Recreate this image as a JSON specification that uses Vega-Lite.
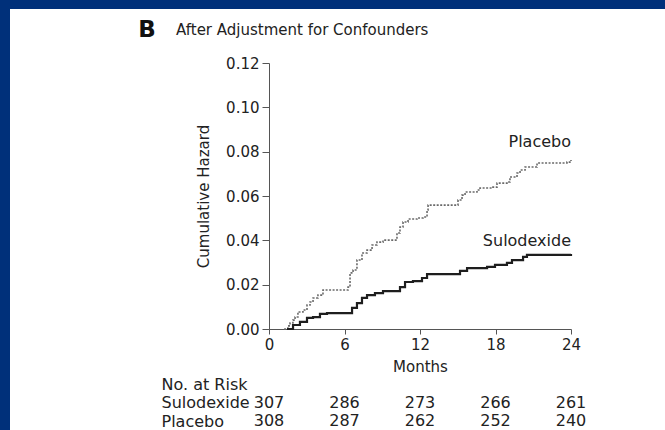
{
  "$schema": "https://vega.github.io/schema/vega-lite/v6.json",
  "width": 655,
  "height": 421,
  "autosize": "none",
  "padding": {"left": 10, "top": 9, "right": 0, "bottom": 0},
  "background": "#00307a",
  "config": {
    "view": {"fill": "white", "stroke": null},
    "font": "DejaVu Sans",
    "text": {"font": "DejaVu Sans"}
  },
  "datasets": {
    "curves": [
      {"group": "Placebo", "month": 1.2, "hazard": 0},
      {"group": "Placebo", "month": 1.5, "hazard": 0.0014},
      {"group": "Placebo", "month": 1.67, "hazard": 0.0027},
      {"group": "Placebo", "month": 1.9, "hazard": 0.004},
      {"group": "Placebo", "month": 2.07, "hazard": 0.0054},
      {"group": "Placebo", "month": 2.3, "hazard": 0.0077},
      {"group": "Placebo", "month": 2.7, "hazard": 0.0086},
      {"group": "Placebo", "month": 3.02, "hazard": 0.0108},
      {"group": "Placebo", "month": 3.26, "hazard": 0.0122},
      {"group": "Placebo", "month": 3.5, "hazard": 0.014},
      {"group": "Placebo", "month": 3.89, "hazard": 0.0153},
      {"group": "Placebo", "month": 4.29, "hazard": 0.0176},
      {"group": "Placebo", "month": 6.28, "hazard": 0.0189},
      {"group": "Placebo", "month": 6.44, "hazard": 0.0253},
      {"group": "Placebo", "month": 6.68, "hazard": 0.0266},
      {"group": "Placebo", "month": 6.99, "hazard": 0.0311},
      {"group": "Placebo", "month": 7.39, "hazard": 0.0343},
      {"group": "Placebo", "month": 7.79, "hazard": 0.0356},
      {"group": "Placebo", "month": 8.19, "hazard": 0.0379},
      {"group": "Placebo", "month": 8.58, "hazard": 0.0392},
      {"group": "Placebo", "month": 9.06, "hazard": 0.0401},
      {"group": "Placebo", "month": 10.17, "hazard": 0.0433},
      {"group": "Placebo", "month": 10.41, "hazard": 0.046},
      {"group": "Placebo", "month": 10.65, "hazard": 0.0483},
      {"group": "Placebo", "month": 11.05, "hazard": 0.0496},
      {"group": "Placebo", "month": 11.76, "hazard": 0.0501},
      {"group": "Placebo", "month": 12.24, "hazard": 0.0505},
      {"group": "Placebo", "month": 12.56, "hazard": 0.0537},
      {"group": "Placebo", "month": 12.64, "hazard": 0.0559},
      {"group": "Placebo", "month": 15.02, "hazard": 0.0582},
      {"group": "Placebo", "month": 15.34, "hazard": 0.0604},
      {"group": "Placebo", "month": 15.58, "hazard": 0.0618},
      {"group": "Placebo", "month": 16.53, "hazard": 0.0627},
      {"group": "Placebo", "month": 16.77, "hazard": 0.0636},
      {"group": "Placebo", "month": 17.8, "hazard": 0.064},
      {"group": "Placebo", "month": 18.12, "hazard": 0.0658},
      {"group": "Placebo", "month": 18.91, "hazard": 0.0663},
      {"group": "Placebo", "month": 19.15, "hazard": 0.0686},
      {"group": "Placebo", "month": 19.71, "hazard": 0.0704},
      {"group": "Placebo", "month": 19.95, "hazard": 0.0717},
      {"group": "Placebo", "month": 20.35, "hazard": 0.0731},
      {"group": "Placebo", "month": 21.3, "hazard": 0.0749},
      {"group": "Placebo", "month": 23.68, "hazard": 0.0753},
      {"group": "Placebo", "month": 24, "hazard": 0.0762},
      {"group": "Sulodexide", "month": 1.43, "hazard": 0},
      {"group": "Sulodexide", "month": 1.91, "hazard": 0.0018},
      {"group": "Sulodexide", "month": 2.46, "hazard": 0.0032},
      {"group": "Sulodexide", "month": 3.02, "hazard": 0.005},
      {"group": "Sulodexide", "month": 3.5, "hazard": 0.0054},
      {"group": "Sulodexide", "month": 4.05, "hazard": 0.0068},
      {"group": "Sulodexide", "month": 4.61, "hazard": 0.0072},
      {"group": "Sulodexide", "month": 6.6, "hazard": 0.0095},
      {"group": "Sulodexide", "month": 6.99, "hazard": 0.0117},
      {"group": "Sulodexide", "month": 7.39, "hazard": 0.014},
      {"group": "Sulodexide", "month": 7.79, "hazard": 0.0153},
      {"group": "Sulodexide", "month": 8.42, "hazard": 0.0162},
      {"group": "Sulodexide", "month": 9.06, "hazard": 0.0171},
      {"group": "Sulodexide", "month": 10.41, "hazard": 0.0189},
      {"group": "Sulodexide", "month": 10.81, "hazard": 0.0212},
      {"group": "Sulodexide", "month": 11.44, "hazard": 0.0216},
      {"group": "Sulodexide", "month": 12.16, "hazard": 0.023},
      {"group": "Sulodexide", "month": 12.56, "hazard": 0.0248},
      {"group": "Sulodexide", "month": 15.18, "hazard": 0.0262},
      {"group": "Sulodexide", "month": 15.74, "hazard": 0.0275},
      {"group": "Sulodexide", "month": 17.33, "hazard": 0.028},
      {"group": "Sulodexide", "month": 17.96, "hazard": 0.0289},
      {"group": "Sulodexide", "month": 18.91, "hazard": 0.0298},
      {"group": "Sulodexide", "month": 19.31, "hazard": 0.0311},
      {"group": "Sulodexide", "month": 20.19, "hazard": 0.0325},
      {"group": "Sulodexide", "month": 20.5, "hazard": 0.0334},
      {"group": "Sulodexide", "month": 24, "hazard": 0.0338}
    ],
    "risk": [
      {"row": "Sulodexide", "month": 0, "n": 307},
      {"row": "Sulodexide", "month": 6, "n": 286},
      {"row": "Sulodexide", "month": 12, "n": 273},
      {"row": "Sulodexide", "month": 18, "n": 266},
      {"row": "Sulodexide", "month": 24, "n": 261},
      {"row": "Placebo", "month": 0, "n": 308},
      {"row": "Placebo", "month": 6, "n": 287},
      {"row": "Placebo", "month": 12, "n": 262},
      {"row": "Placebo", "month": 18, "n": 252},
      {"row": "Placebo", "month": 24, "n": 240}
    ]
  },
  "layer": [
    {
      "layer": [
        {
          "data": {"name": "curves"},
          "mark": {"type": "line", "interpolate": "step-after"},
          "encoding": {
            "x": {
              "field": "month", "type": "quantitative",
              "scale": {"domain": [0, 24], "range": [259, 561], "nice": false},
              "axis": {
                "values": [0, 6, 12, 18, 24], "offset": -101, "grid": false, "labelFlush": false,
                "tickSize": 5, "tickColor": "#555", "domainColor": "#555",
                "labelPadding": 3, "labelFontSize": 15, "labelColor": "#222", "labelFont": "DejaVu Sans",
                "title": "Months", "titleFontSize": 15, "titleFontWeight": "normal", "titleColor": "#222",
                "titleFont": "DejaVu Sans", "titlePadding": 7
              }
            },
            "y": {
              "field": "hazard", "type": "quantitative",
              "scale": {"domain": [0, 0.12], "range": [320, 54], "nice": false},
              "axis": {
                "values": [0, 0.02, 0.04, 0.06, 0.08, 0.1, 0.12], "format": ".2f", "offset": -259, "grid": false, "labelFlush": false,
                "tickSize": 7, "tickColor": "#555", "domainColor": "#555",
                "labelPadding": 3, "labelFontSize": 15, "labelColor": "#222", "labelFont": "DejaVu Sans",
                "title": "Cumulative Hazard", "titleFontSize": 15, "titleFontWeight": "normal", "titleColor": "#222",
                "titleFont": "DejaVu Sans", "titlePadding": 14
              }
            },
            "color": {"field": "group", "type": "nominal", "scale": {"domain": ["Placebo", "Sulodexide"], "range": ["#6a6a6a", "#1e1e1e"]}, "legend": null},
            "strokeDash": {"field": "group", "type": "nominal", "scale": {"domain": ["Placebo", "Sulodexide"], "range": [[2, 1.5], [1, 0]]}, "legend": null},
            "strokeWidth": {"field": "group", "type": "nominal", "scale": {"domain": ["Placebo", "Sulodexide"], "range": [1.6, 2.2]}, "legend": null}
          }
        },
        {
          "data": {"values": [{}]},
          "mark": {"type": "text", "align": "right", "baseline": "middle", "fontSize": 16, "color": "#222"},
          "encoding": {
            "x": {"datum": 24, "type": "quantitative", "scale": {"domain": [0, 24], "range": [259, 561], "nice": false}},
            "y": {"datum": 0.0844, "type": "quantitative", "scale": {"domain": [0, 0.12], "range": [320, 54], "nice": false}},
            "text": {"value": "Placebo"}
          }
        },
        {
          "data": {"values": [{}]},
          "mark": {"type": "text", "align": "right", "baseline": "middle", "fontSize": 16, "color": "#222"},
          "encoding": {
            "x": {"datum": 24, "type": "quantitative", "scale": {"domain": [0, 24], "range": [259, 561], "nice": false}},
            "y": {"datum": 0.0397, "type": "quantitative", "scale": {"domain": [0, 0.12], "range": [320, 54], "nice": false}},
            "text": {"value": "Sulodexide"}
          }
        },
        {
          "data": {"values": [{}]},
          "mark": {"type": "text", "align": "center", "baseline": "middle", "fontSize": 23, "fontWeight": "bold", "color": "#111"},
          "encoding": {
            "x": {"datum": -9.7, "type": "quantitative", "scale": {"domain": [0, 24], "range": [259, 561], "nice": false}},
            "y": {"datum": 0.1351, "type": "quantitative", "scale": {"domain": [0, 0.12], "range": [320, 54], "nice": false}},
            "text": {"value": "B"}
          }
        },
        {
          "data": {"values": [{}]},
          "mark": {"type": "text", "align": "left", "baseline": "middle", "fontSize": 15, "color": "#222"},
          "encoding": {
            "x": {"datum": -7.39, "type": "quantitative", "scale": {"domain": [0, 24], "range": [259, 561], "nice": false}},
            "y": {"datum": 0.1349, "type": "quantitative", "scale": {"domain": [0, 0.12], "range": [320, 54], "nice": false}},
            "text": {"value": "After Adjustment for Confounders"}
          }
        }
      ]
    },
    {
      "data": {"name": "risk"},
      "mark": {"type": "text", "align": "center", "baseline": "middle", "fontSize": 16, "color": "#222"},
      "encoding": {
        "x": {"field": "month", "type": "quantitative", "scale": {"domain": [0, 24], "range": [259, 561], "nice": false}},
        "y": {
          "field": "row", "type": "nominal",
          "scale": {"type": "point", "domain": ["No. at Risk", "Sulodexide", "Placebo"], "range": [375, 412], "padding": 0},
          "axis": {
            "orient": "left", "offset": -151, "domain": false, "ticks": false, "tickSize": 0,
            "labelPadding": 0, "labelAlign": "left", "labelBaseline": "middle",
            "labelFontSize": 16, "labelColor": "#222", "labelFont": "DejaVu Sans", "title": null, "grid": false
          }
        },
        "text": {"field": "n", "type": "quantitative"}
      }
    }
  ],
  "resolve": {"scale": {"y": "independent"}}
}
